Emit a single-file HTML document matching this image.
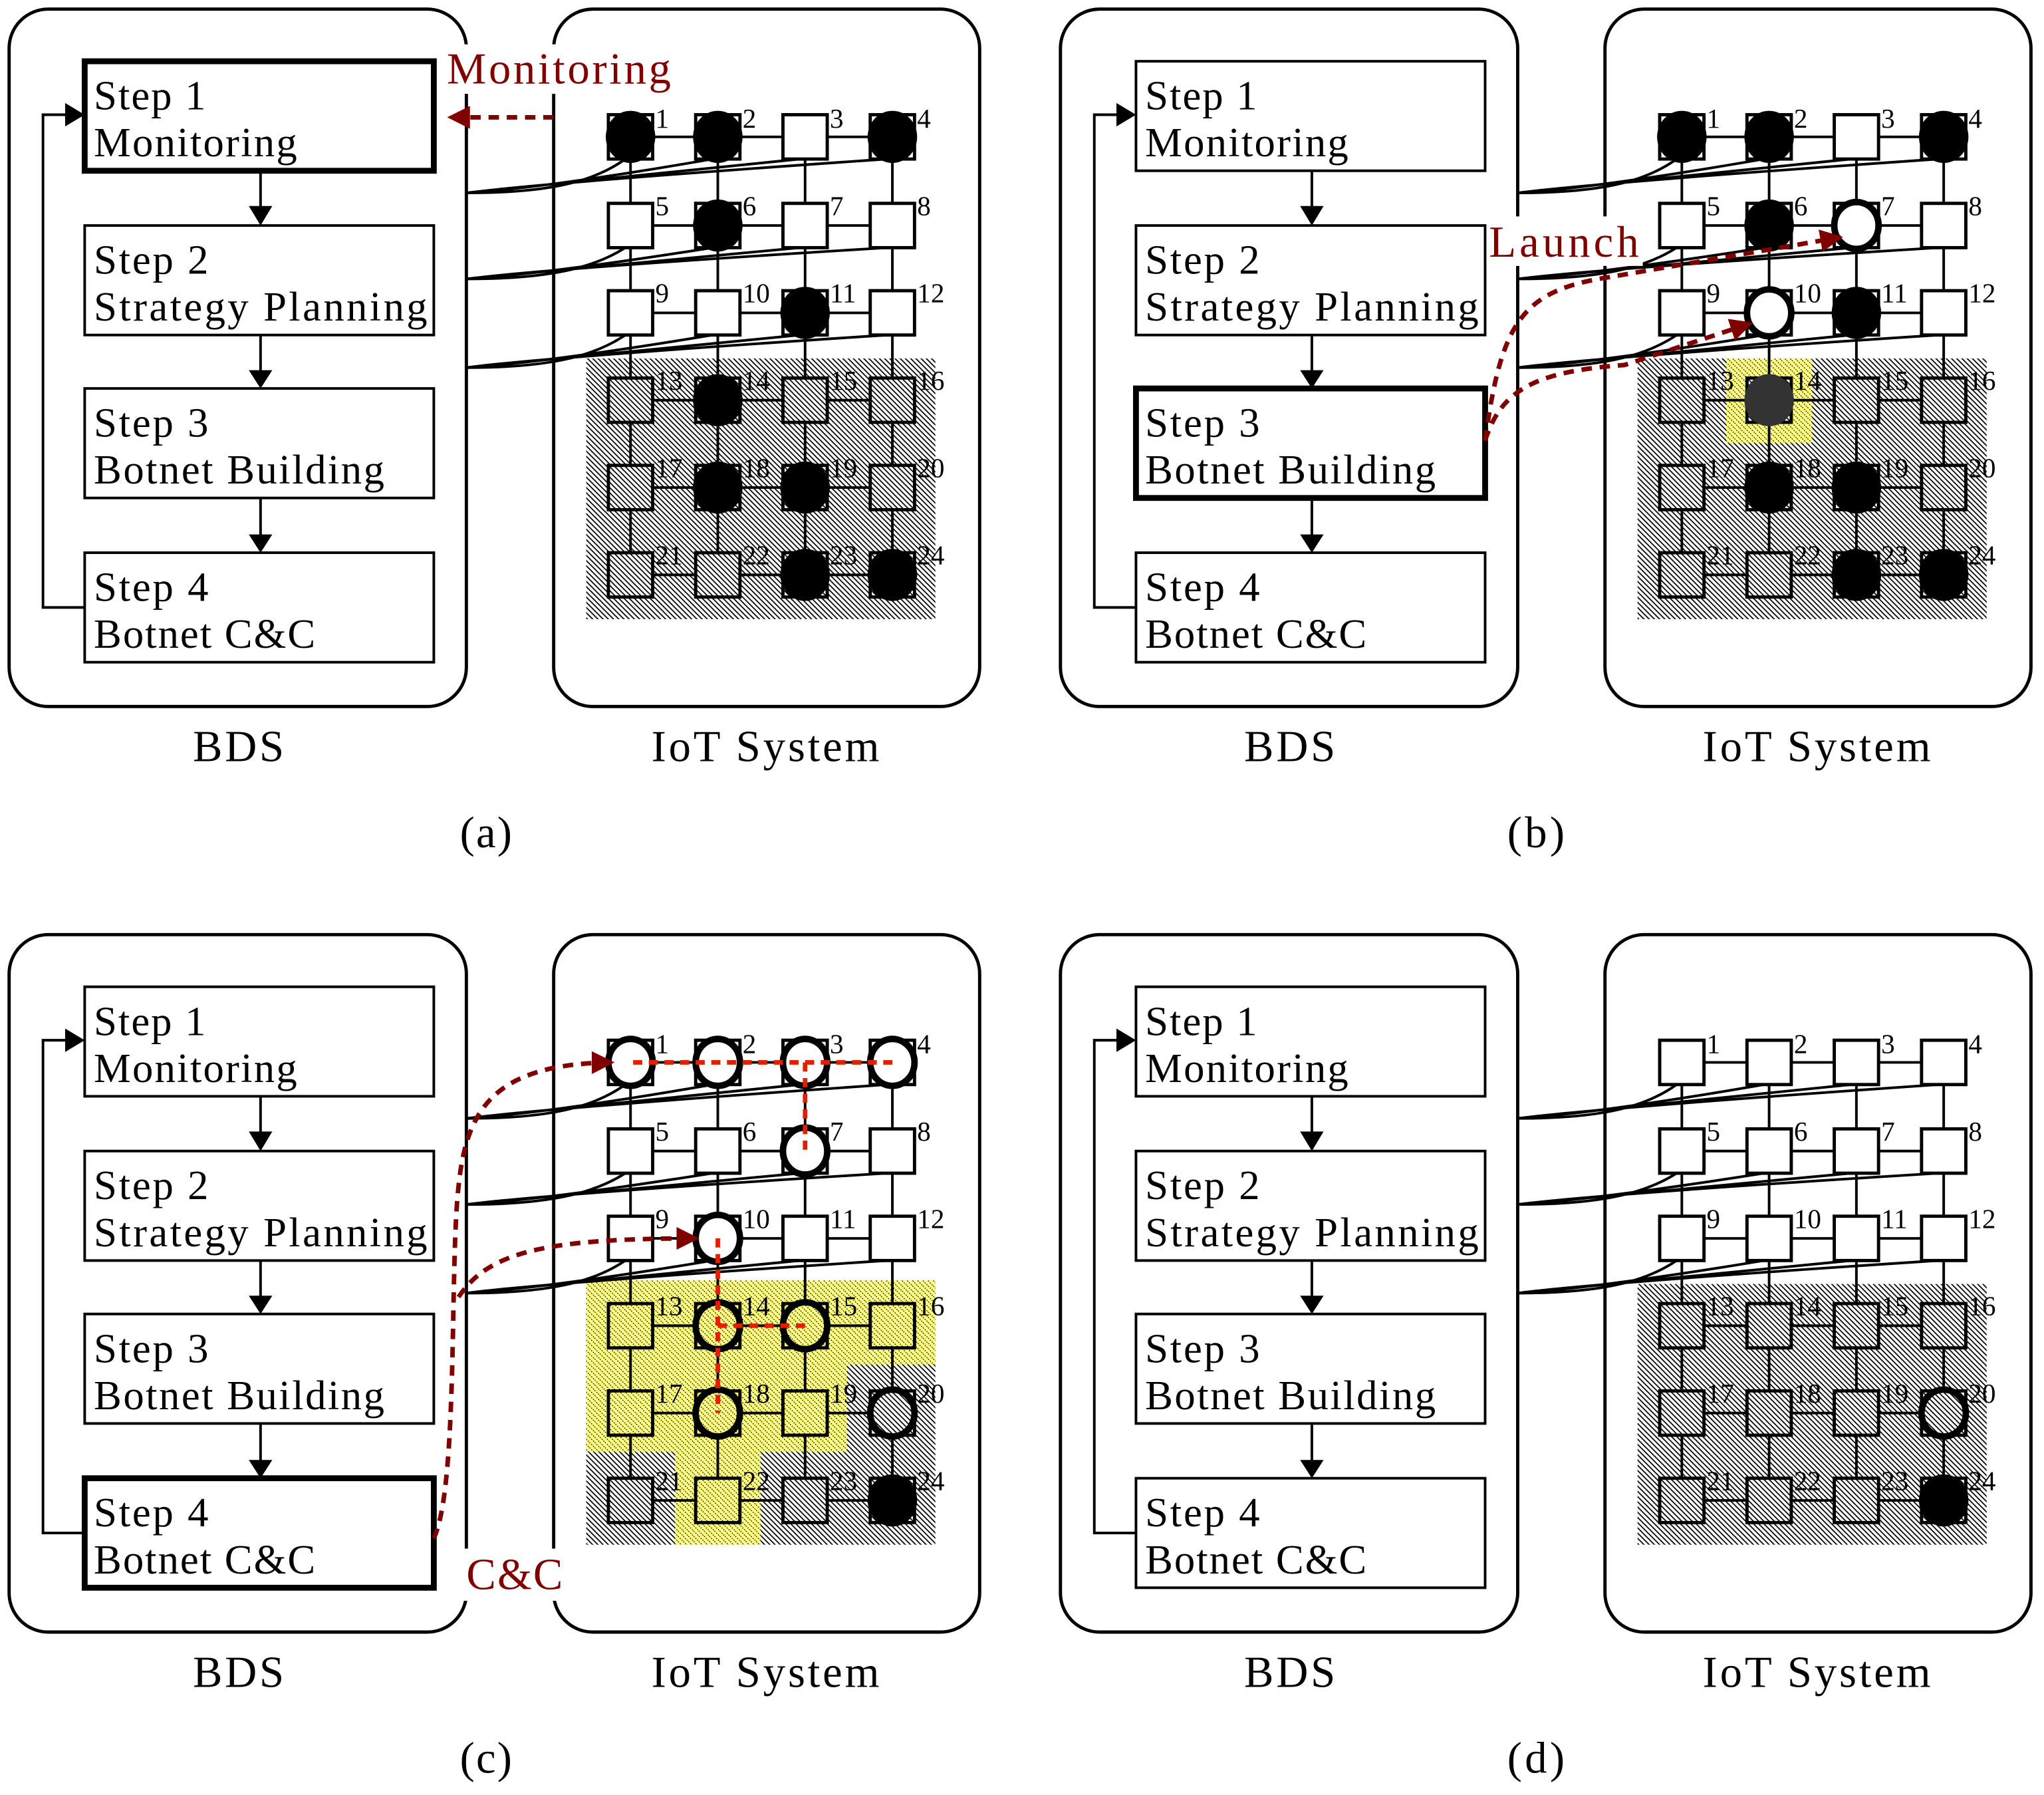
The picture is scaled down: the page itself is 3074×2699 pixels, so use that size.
<!DOCTYPE html>
<html><head><meta charset="utf-8"><style>html,body{margin:0;padding:0;background:#fff}svg{display:block}text{font-family:"Liberation Serif",serif}</style></head><body>
<svg width="3074" height="2699" viewBox="0 0 1569 1377" preserveAspectRatio="none" xmlns="http://www.w3.org/2000/svg">
<defs>
<pattern id="ht" width="4" height="4" patternUnits="userSpaceOnUse"><rect width="4" height="4" fill="#fff"/><path d="M-1,-1L5,5M-1,3L1,5M3,-1L5,1" stroke="#000" stroke-width="0.9"/></pattern>
<pattern id="yl" width="4" height="4" patternUnits="userSpaceOnUse"><rect width="4" height="4" fill="#ffff80"/><path d="M-1,-1L5,5M-1,3L1,5M3,-1L5,1" stroke="#000" stroke-width="0.6" stroke-dasharray="1 1"/></pattern>
<marker id="ah" viewBox="0 0 10 10" refX="9" refY="5" markerWidth="5" markerHeight="5" orient="auto" markerUnits="strokeWidth"><path d="M0,0L10,5L0,10z" fill="#800000"/></marker>
<g id="S"><rect x="-17" y="-17" width="34" height="34" fill="#fff" stroke="#000" stroke-width="2.5"/></g>
<g id="H"><rect x="-17" y="-17" width="34" height="34" fill="url(#ht)" stroke="#000" stroke-width="2.5"/></g>
<g id="Y"><rect x="-17" y="-17" width="34" height="34" fill="url(#yl)" stroke="#000" stroke-width="2.5"/></g>
<g id="B"><use href="#S"/><ellipse rx="19" ry="20" fill="#000"/></g>
<g id="BH"><use href="#H"/><ellipse rx="19" ry="20" fill="#000"/></g>
<g id="D"><use href="#H"/><ellipse rx="19" ry="20" fill="#333"/></g>
<g id="W"><use href="#S"/><ellipse rx="17" ry="18" fill="#fff" stroke="#000" stroke-width="5"/></g>
<g id="WH"><use href="#H"/><ellipse rx="17" ry="18" fill="url(#ht)" stroke="#000" stroke-width="5"/></g>
<g id="WY"><use href="#Y"/><ellipse rx="17" ry="18" fill="url(#yl)" stroke="#000" stroke-width="5"/></g>
<g id="bds" fill="none" stroke="#000">
<rect x="7" y="7" width="351" height="535" rx="30" stroke-width="2.5"/>
<rect x="65" y="47" width="268" height="84" fill="#fff" stroke-width="2"/>
<rect x="65" y="173" width="268" height="84" fill="#fff" stroke-width="2"/>
<rect x="65" y="298" width="268" height="84" fill="#fff" stroke-width="2"/>
<rect x="65" y="424" width="268" height="84" fill="#fff" stroke-width="2"/>
<path d="M200,131V160M200,257V286M200,382V412M65,466H33V88H52" stroke-width="2"/>
<path d="M191,158L209,158L200,173zM191,284L209,284L200,298zM191,410L209,410L200,424zM50,79L65,88L50,97z" fill="#000" stroke="none"/>
<g fill="#000" stroke="none" font-size="32">
<text x="72" y="84" textLength="86">Step 1</text><text x="72" y="120" textLength="156">Monitoring</text>
<text x="72" y="210" textLength="88">Step 2</text><text x="72" y="246" textLength="256">Strategy Planning</text>
<text x="72" y="335" textLength="88">Step 3</text><text x="72" y="371" textLength="223">Botnet Building</text>
<text x="72" y="461" textLength="88">Step 4</text><text x="72" y="497" textLength="170">Botnet C&amp;C</text>
</g>
<g fill="#000" stroke="none" font-size="34">
<text x="148" y="584" textLength="70">BDS</text><text x="500" y="584" textLength="175">IoT System</text>
</g>
</g>
<g id="iot" fill="none" stroke="#000">
<rect x="425" y="7" width="327" height="535" rx="30" stroke-width="2.5"/>
<rect x="450" y="275" width="268" height="200" fill="url(#ht)" stroke="none"/>
</g>
<g id="grid" fill="none" stroke="#000" stroke-width="2">
<path d="M484,105H685M484,173H685M484,240H685M484,307H685M484,374H685M484,441H685M484,105V441M551,105V441M618,105V441M685,105V441"/>
<path d="M358,148C420,148 455,140 480,122M358,148Q420,144 547,122M358,148Q420,142 614,122M358,148Q420,140 681,122"/>
<path d="M358,214C420,214 455,206 480,190M358,214Q420,210 547,190M358,214Q420,208 614,190M358,214Q420,206 681,190"/>
<path d="M358,282C420,282 455,274 480,257M358,282Q420,278 547,257M358,282Q420,276 614,257M358,282Q420,274 681,257"/>
</g>
<g id="nums" font-size="21" fill="#000">
<text x="503" y="98">1</text><text x="570" y="98">2</text><text x="637" y="98">3</text><text x="704" y="98">4</text>
<text x="503" y="165">5</text><text x="570" y="165">6</text><text x="637" y="165">7</text><text x="704" y="165">8</text>
<text x="503" y="232">9</text><text x="570" y="232">10</text><text x="637" y="232">11</text><text x="704" y="232">12</text>
<text x="503" y="299">13</text><text x="570" y="299">14</text><text x="637" y="299">15</text><text x="704" y="299">16</text>
<text x="503" y="366">17</text><text x="570" y="366">18</text><text x="637" y="366">19</text><text x="704" y="366">20</text>
<text x="503" y="433">21</text><text x="570" y="433">22</text><text x="637" y="433">23</text><text x="704" y="433">24</text>
</g>
</defs>

<!-- (a) -->
<g>
<use href="#bds"/><use href="#iot"/><use href="#grid"/>
<rect x="65" y="47" width="268" height="84" fill="none" stroke="#000" stroke-width="4.5"/>
<use href="#B" x="484" y="105"/><use href="#B" x="551" y="105"/><use href="#S" x="618" y="105"/><use href="#B" x="685" y="105"/>
<use href="#S" x="484" y="173"/><use href="#B" x="551" y="173"/><use href="#S" x="618" y="173"/><use href="#S" x="685" y="173"/>
<use href="#S" x="484" y="240"/><use href="#S" x="551" y="240"/><use href="#B" x="618" y="240"/><use href="#S" x="685" y="240"/>
<use href="#H" x="484" y="307"/><use href="#BH" x="551" y="307"/><use href="#H" x="618" y="307"/><use href="#H" x="685" y="307"/>
<use href="#H" x="484" y="374"/><use href="#BH" x="551" y="374"/><use href="#BH" x="618" y="374"/><use href="#H" x="685" y="374"/>
<use href="#H" x="484" y="441"/><use href="#H" x="551" y="441"/><use href="#BH" x="618" y="441"/><use href="#BH" x="685" y="441"/>
<use href="#nums"/>
<rect x="340" y="34" width="180" height="38" fill="#fff"/>
<text x="343" y="64" font-size="34" fill="#800000" textLength="172">Monitoring</text>
<path d="M425,90H345" stroke="#800000" stroke-width="3.5" stroke-dasharray="8 6" fill="none" marker-end="url(#ah)"/>
<text x="353" y="650" font-size="34" textLength="40">(a)</text>
</g>

<!-- (b) -->
<g transform="translate(807,0)">
<use href="#bds"/><use href="#iot"/>
<rect x="518" y="275" width="66" height="65" fill="url(#yl)"/>
<use href="#grid"/>
<rect x="65" y="298" width="268" height="84" fill="none" stroke="#000" stroke-width="4.5"/>
<use href="#B" x="484" y="105"/><use href="#B" x="551" y="105"/><use href="#S" x="618" y="105"/><use href="#B" x="685" y="105"/>
<use href="#S" x="484" y="173"/><use href="#B" x="551" y="173"/><use href="#W" x="618" y="173"/><use href="#S" x="685" y="173"/>
<use href="#S" x="484" y="240"/><use href="#W" x="551" y="240"/><use href="#B" x="618" y="240"/><use href="#S" x="685" y="240"/>
<use href="#H" x="484" y="307"/><use href="#D" x="551" y="307"/><use href="#H" x="618" y="307"/><use href="#H" x="685" y="307"/>
<use href="#H" x="484" y="374"/><use href="#BH" x="551" y="374"/><use href="#BH" x="618" y="374"/><use href="#H" x="685" y="374"/>
<use href="#H" x="484" y="441"/><use href="#H" x="551" y="441"/><use href="#BH" x="618" y="441"/><use href="#BH" x="685" y="441"/>
<use href="#nums"/>
<rect x="334" y="166" width="120" height="38" fill="#fff"/>
<text x="336" y="197" font-size="34" fill="#800000" textLength="115">Launch</text>
<g stroke="#800000" stroke-width="3.5" stroke-dasharray="8 6" fill="none">
<path d="M333,338C345,250 360,225 420,214L606,182" marker-end="url(#ah)"/>
<path d="M333,338C345,300 370,285 440,280L537,248" marker-end="url(#ah)"/>
</g>
<text x="350" y="650" font-size="34" textLength="44">(b)</text>
</g>

<!-- (c) -->
<g transform="translate(0,710)">
<use href="#bds"/><use href="#iot"/>
<path d="M450,272H718V337H650V404H584V475H518V404H450z" fill="url(#yl)"/>
<use href="#grid"/>
<rect x="65" y="424" width="268" height="84" fill="none" stroke="#000" stroke-width="4.5"/>
<use href="#W" x="484" y="105"/><use href="#W" x="551" y="105"/><use href="#W" x="618" y="105"/><use href="#W" x="685" y="105"/>
<use href="#S" x="484" y="173"/><use href="#S" x="551" y="173"/><use href="#W" x="618" y="173"/><use href="#S" x="685" y="173"/>
<use href="#S" x="484" y="240"/><use href="#W" x="551" y="240"/><use href="#S" x="618" y="240"/><use href="#S" x="685" y="240"/>
<use href="#Y" x="484" y="307"/><use href="#WY" x="551" y="307"/><use href="#WY" x="618" y="307"/><use href="#Y" x="685" y="307"/>
<use href="#Y" x="484" y="374"/><use href="#WY" x="551" y="374"/><use href="#Y" x="618" y="374"/><use href="#WH" x="685" y="374"/>
<use href="#H" x="484" y="441"/><use href="#Y" x="551" y="441"/><use href="#H" x="618" y="441"/><use href="#BH" x="685" y="441"/>
<use href="#nums"/>
<g stroke="#e02000" stroke-width="3.5" stroke-dasharray="7 5" fill="none">
<path d="M486,105H685M618,105V172M551,240V374M551,307H618"/>
</g>
<rect x="340" y="478" width="100" height="40" fill="#fff"/>
<text x="358" y="509" font-size="34" fill="#800000" textLength="74">C&amp;C</text>
<g stroke="#800000" stroke-width="3.5" stroke-dasharray="8 6" fill="none">
<path d="M333,470C352,430 345,260 352,200C358,140 380,106 470,105" marker-end="url(#ah)"/>
<path d="M352,285C375,250 420,240 535,240" marker-end="url(#ah)"/>
</g>
<text x="353" y="650" font-size="34" textLength="40">(c)</text>
</g>

<!-- (d) -->
<g transform="translate(807,710)">
<use href="#bds"/><use href="#iot"/><use href="#grid"/>
<use href="#S" x="484" y="105"/><use href="#S" x="551" y="105"/><use href="#S" x="618" y="105"/><use href="#S" x="685" y="105"/>
<use href="#S" x="484" y="173"/><use href="#S" x="551" y="173"/><use href="#S" x="618" y="173"/><use href="#S" x="685" y="173"/>
<use href="#S" x="484" y="240"/><use href="#S" x="551" y="240"/><use href="#S" x="618" y="240"/><use href="#S" x="685" y="240"/>
<use href="#H" x="484" y="307"/><use href="#H" x="551" y="307"/><use href="#H" x="618" y="307"/><use href="#H" x="685" y="307"/>
<use href="#H" x="484" y="374"/><use href="#H" x="551" y="374"/><use href="#H" x="618" y="374"/><use href="#WH" x="685" y="374"/>
<use href="#H" x="484" y="441"/><use href="#H" x="551" y="441"/><use href="#H" x="618" y="441"/><use href="#BH" x="685" y="441"/>
<use href="#nums"/>
<text x="350" y="650" font-size="34" textLength="44">(d)</text>
</g>
</svg>
</body></html>
